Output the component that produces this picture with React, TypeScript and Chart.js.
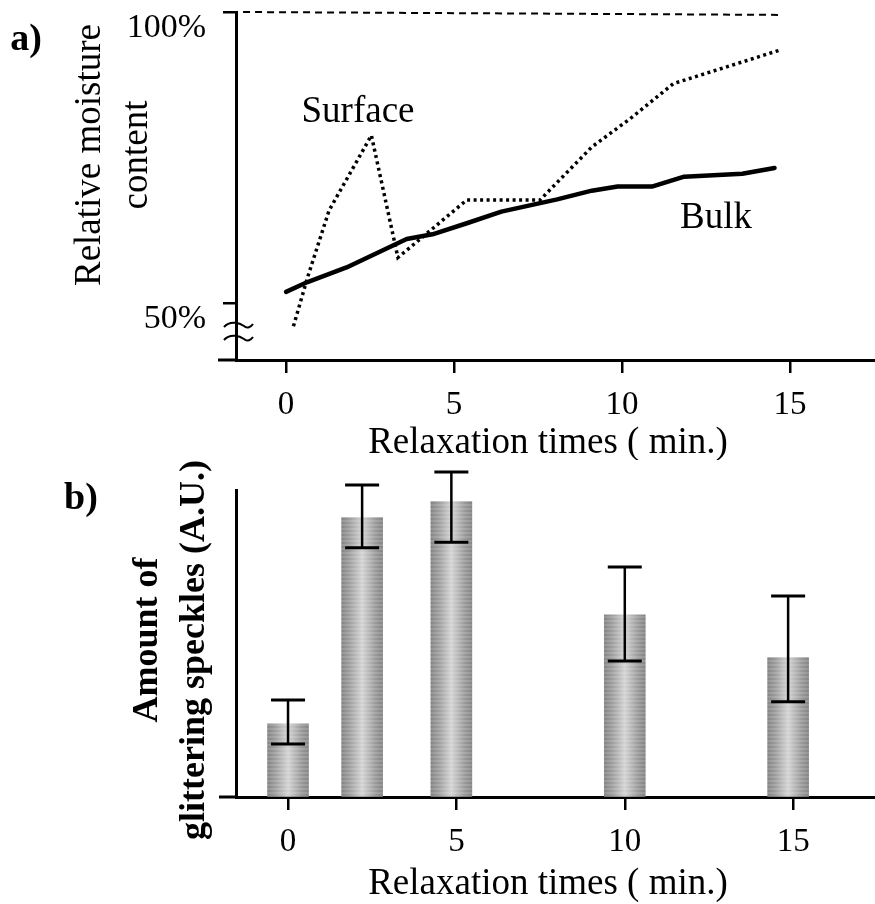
import { useEffect, useRef } from 'react';
import { Chart, registerables } from 'chart.js';

Chart.register(...registerables);

const SERIF = '"Liberation Serif", "Times New Roman", serif';

// a) relative moisture content versus relaxation time
const timeTicks = [0, 5, 10, 15];
const moistureTicks = [50, 100];
const bulkTime = [0, 0.64, 1.8, 3.59, 4.36, 5.38, 6.41, 8.07, 9.1, 9.87, 10.89, 11.85, 13.58, 14.54];
const bulkMoisture = [51.9, 53.6, 56.1, 61.0, 61.8, 63.7, 65.7, 67.8, 69.3, 70.0, 70.0, 71.7, 72.2, 73.2];
const surfaceTime = [0.22, 0.64, 1.28, 2.54, 3.33, 5.38, 7.56, 9.1, 10.25, 11.53, 12.8, 14.67];
const surfaceMoisture = [46.0, 54.4, 65.9, 78.8, 57.8, 67.7, 67.7, 76.8, 81.7, 87.7, 90.0, 93.4];
const saturationTime = [-1.28, 14.73];
const saturationMoisture = [100, 99.5];

// b) amount of glittering speckles (arbitrary units)
const speckleTime = [0, 2.2, 4.85, 10, 14.85];
const speckleAmount = [2.38, 9.1, 9.62, 5.93, 4.54];
const speckleHigh = [3.16, 10.16, 10.59, 7.49, 6.55];
const speckleLow = [1.73, 8.12, 8.3, 4.43, 3.1];

const toPoints = (xs: number[], ys: number[]) => xs.map((x, i) => ({ x, y: ys[i] }));

function text(ctx: CanvasRenderingContext2D, s: string, x: number, y: number, font: string, rotate = false) {
  ctx.save();
  ctx.font = font;
  ctx.fillStyle = '#000';
  ctx.textAlign = 'center';
  ctx.textBaseline = 'middle';
  ctx.translate(x, y);
  if (rotate) ctx.rotate(-Math.PI / 2);
  ctx.fillText(s, 0, 0);
  ctx.restore();
}

const BAR_W = 41;

function makeBarTile(): HTMLCanvasElement {
  const tile = document.createElement('canvas');
  tile.width = BAR_W;
  tile.height = 4;
  const t = tile.getContext('2d')!;
  const g = t.createLinearGradient(0, 0, BAR_W, 0);
  g.addColorStop(0, '#858585');
  g.addColorStop(0.18, '#9c9c9c');
  g.addColorStop(0.5, '#d4d4d4');
  g.addColorStop(0.82, '#9c9c9c');
  g.addColorStop(1, '#858585');
  t.fillStyle = g;
  t.fillRect(0, 0, BAR_W, 4);
  t.fillStyle = 'rgba(255,255,255,0.14)';
  t.fillRect(0, 0, BAR_W, 2);
  return tile;
}

export default function App() {
  const refA = useRef<HTMLCanvasElement>(null);
  const refB = useRef<HTMLCanvasElement>(null);

  useEffect(() => {
    const fixTicks = (values: number[]) => (s: any) => {
      s.ticks = values.map((value) => ({ value }));
    };

    const moistureDecor = {
      id: 'moistureDecor',
      afterDraw(chart: any) {
        const { ctx, chartArea } = chart;
        ctx.save();
        ctx.strokeStyle = '#000';
        ctx.lineWidth = 3;
        // x axis runs a little past the y axis
        ctx.beginPath();
        ctx.moveTo(218, chartArea.bottom);
        ctx.lineTo(chartArea.left, chartArea.bottom);
        ctx.stroke();
        // axis break mark
        ctx.lineWidth = 2;
        for (const y0 of [325, 338]) {
          ctx.beginPath();
          ctx.moveTo(224, y0 + 2);
          ctx.bezierCurveTo(230, y0 - 5, 240, y0 - 2, 244, y0 + 1);
          ctx.bezierCurveTo(247, y0 + 4, 251, y0 + 2, 253, y0 - 1);
          ctx.stroke();
        }
        ctx.restore();
        text(ctx, 'a)', 26, 40, `bold 38px ${SERIF}`);
        text(ctx, 'Relative moisture', 90, 155, `37px ${SERIF}`, true);
        text(ctx, 'content', 137, 155, `37px ${SERIF}`, true);
        text(ctx, 'Surface', 358, 112, `37px ${SERIF}`);
        text(ctx, 'Bulk', 716, 218, `37px ${SERIF}`);
        text(ctx, 'Relaxation times ( min.)', 548, 443, `37px ${SERIF}`);
      },
    };

    const chartA = new Chart(refA.current!, {
      type: 'line',
      data: {
        datasets: [
          {
            label: 'Bulk',
            data: toPoints(bulkTime, bulkMoisture),
            borderColor: '#000',
            borderWidth: 4.5,
            pointRadius: 0,
            tension: 0,
            borderJoinStyle: 'round',
            borderCapStyle: 'round',
          },
          {
            label: 'Surface',
            data: toPoints(surfaceTime, surfaceMoisture),
            borderColor: '#000',
            borderWidth: 3.5,
            borderDash: [3, 3.5],
            pointRadius: 0,
            tension: 0,
          },
          {
            label: '100%',
            data: toPoints(saturationTime, saturationMoisture),
            borderColor: '#000',
            borderWidth: 2,
            borderDash: [7, 5],
            pointRadius: 0,
            clip: false,
          },
        ],
      } as any,
      options: {
        responsive: false,
        animation: false,
        devicePixelRatio: 1,
        events: [],
        layout: { padding: { top: 12, left: 0, right: 0, bottom: 0 } },
        plugins: { legend: { display: false }, tooltip: { enabled: false } },
        scales: {
          x: {
            type: 'linear',
            min: -1.49,
            max: 17.53,
            offset: false,
            afterBuildTicks: fixTicks(timeTicks),
            afterFit: (s: any) => {
              s.height = 100;
              s.paddingLeft = 0;
              s.paddingRight = 0;
            },
            grid: { drawOnChartArea: false, drawTicks: true, tickLength: 13, color: '#000', lineWidth: 2.5 },
            border: { color: '#000', width: 3 },
            ticks: { color: '#000', font: { family: SERIF, size: 33 }, padding: 13, maxRotation: 0, autoSkip: false },
          },
          y: {
            type: 'linear',
            min: 40.2,
            max: 100,
            afterBuildTicks: fixTicks(moistureTicks),
            afterFit: (s: any) => {
              s.width = 236;
              s.paddingTop = 0;
              s.paddingBottom = 0;
            },
            grid: { drawOnChartArea: false, drawTicks: true, tickLength: 13, color: '#000', lineWidth: 2.5 },
            border: { color: '#000', width: 3 },
            ticks: {
              color: '#000',
              font: { family: SERIF, size: 34 },
              padding: 17,
              labelOffset: 16,
              callback: (v: any) => `${v}%`,
            },
          },
        },
      } as any,
      plugins: [moistureDecor],
    });

    const tile = makeBarTile();

    const speckleDecor = {
      id: 'speckleDecor',
      afterDatasetsDraw(chart: any) {
        const { ctx, chartArea, scales } = chart;
        ctx.save();
        ctx.strokeStyle = '#000';
        ctx.lineWidth = 3;
        ctx.beginPath();
        ctx.moveTo(219, chartArea.bottom);
        ctx.lineTo(chartArea.left, chartArea.bottom);
        ctx.stroke();
        // error bars
        speckleTime.forEach((t, i) => {
          const x = scales.x.getPixelForValue(t);
          const yHi = scales.y.getPixelForValue(speckleHigh[i]);
          const yLo = scales.y.getPixelForValue(speckleLow[i]);
          ctx.lineWidth = 2.5;
          ctx.beginPath();
          ctx.moveTo(x, yHi);
          ctx.lineTo(x, yLo);
          ctx.stroke();
          ctx.lineWidth = 3;
          ctx.beginPath();
          ctx.moveTo(x - 17, yHi);
          ctx.lineTo(x + 17, yHi);
          ctx.moveTo(x - 17, yLo);
          ctx.lineTo(x + 17, yLo);
          ctx.stroke();
        });
        ctx.restore();
        text(ctx, 'b)', 81, 39, `bold 38px ${SERIF}`);
        text(ctx, 'Amount of', 148, 180, `bold 36px ${SERIF}`, true);
        text(ctx, 'glittering speckles (A.U.)', 195, 190, `bold 36px ${SERIF}`, true);
        text(ctx, 'Relaxation times ( min.)', 548, 424, `37px ${SERIF}`);
      },
    };

    const chartB = new Chart(refB.current!, {
      type: 'bar',
      data: {
        datasets: [
          {
            label: 'Glittering speckles',
            data: toPoints(speckleTime, speckleAmount),
            barThickness: BAR_W,
            borderWidth: 0,
            backgroundColor: (c: any) => {
              const chart = c.chart;
              if (!chart.chartArea || c.dataIndex === undefined) return '#aaaaaa';
              const pattern = chart.ctx.createPattern(tile, 'repeat');
              const cx = chart.scales.x.getPixelForValue(speckleTime[c.dataIndex]);
              pattern.setTransform(new DOMMatrix([1, 0, 0, 1, cx - BAR_W / 2, 0]));
              return pattern;
            },
          },
        ],
      } as any,
      options: {
        responsive: false,
        animation: false,
        devicePixelRatio: 1,
        events: [],
        layout: { padding: { top: 30, left: 0, right: 0, bottom: 0 } },
        plugins: { legend: { display: false }, tooltip: { enabled: false } },
        scales: {
          x: {
            type: 'linear',
            min: -1.545,
            max: 17.43,
            offset: false,
            afterBuildTicks: fixTicks(timeTicks),
            afterFit: (s: any) => {
              s.height = 107;
              s.paddingLeft = 0;
              s.paddingRight = 0;
            },
            grid: { drawOnChartArea: false, drawTicks: true, tickLength: 13, color: '#000', lineWidth: 2.5, offset: false },
            border: { color: '#000', width: 3 },
            ticks: { color: '#000', font: { family: SERIF, size: 33 }, padding: 13, maxRotation: 0, autoSkip: false },
          },
          y: {
            type: 'linear',
            min: 0,
            max: 10,
            afterFit: (s: any) => {
              s.width = 236;
              s.paddingTop = 0;
              s.paddingBottom = 0;
            },
            grid: { drawOnChartArea: false, drawTicks: false },
            border: { color: '#000', width: 3 },
            ticks: { display: false },
          },
        },
      } as any,
      plugins: [speckleDecor],
    });

    return () => {
      chartA.destroy();
      chartB.destroy();
    };
  }, []);

  return (
    <div style={{ position: 'absolute', left: 0, top: 0, width: 875, height: 904, background: '#fff' }}>
      <canvas ref={refA} width={875} height={460} style={{ position: 'absolute', left: 0, top: 0 }} />
      <canvas ref={refB} width={875} height={444} style={{ position: 'absolute', left: 0, top: 460 }} />
    </div>
  );
}
